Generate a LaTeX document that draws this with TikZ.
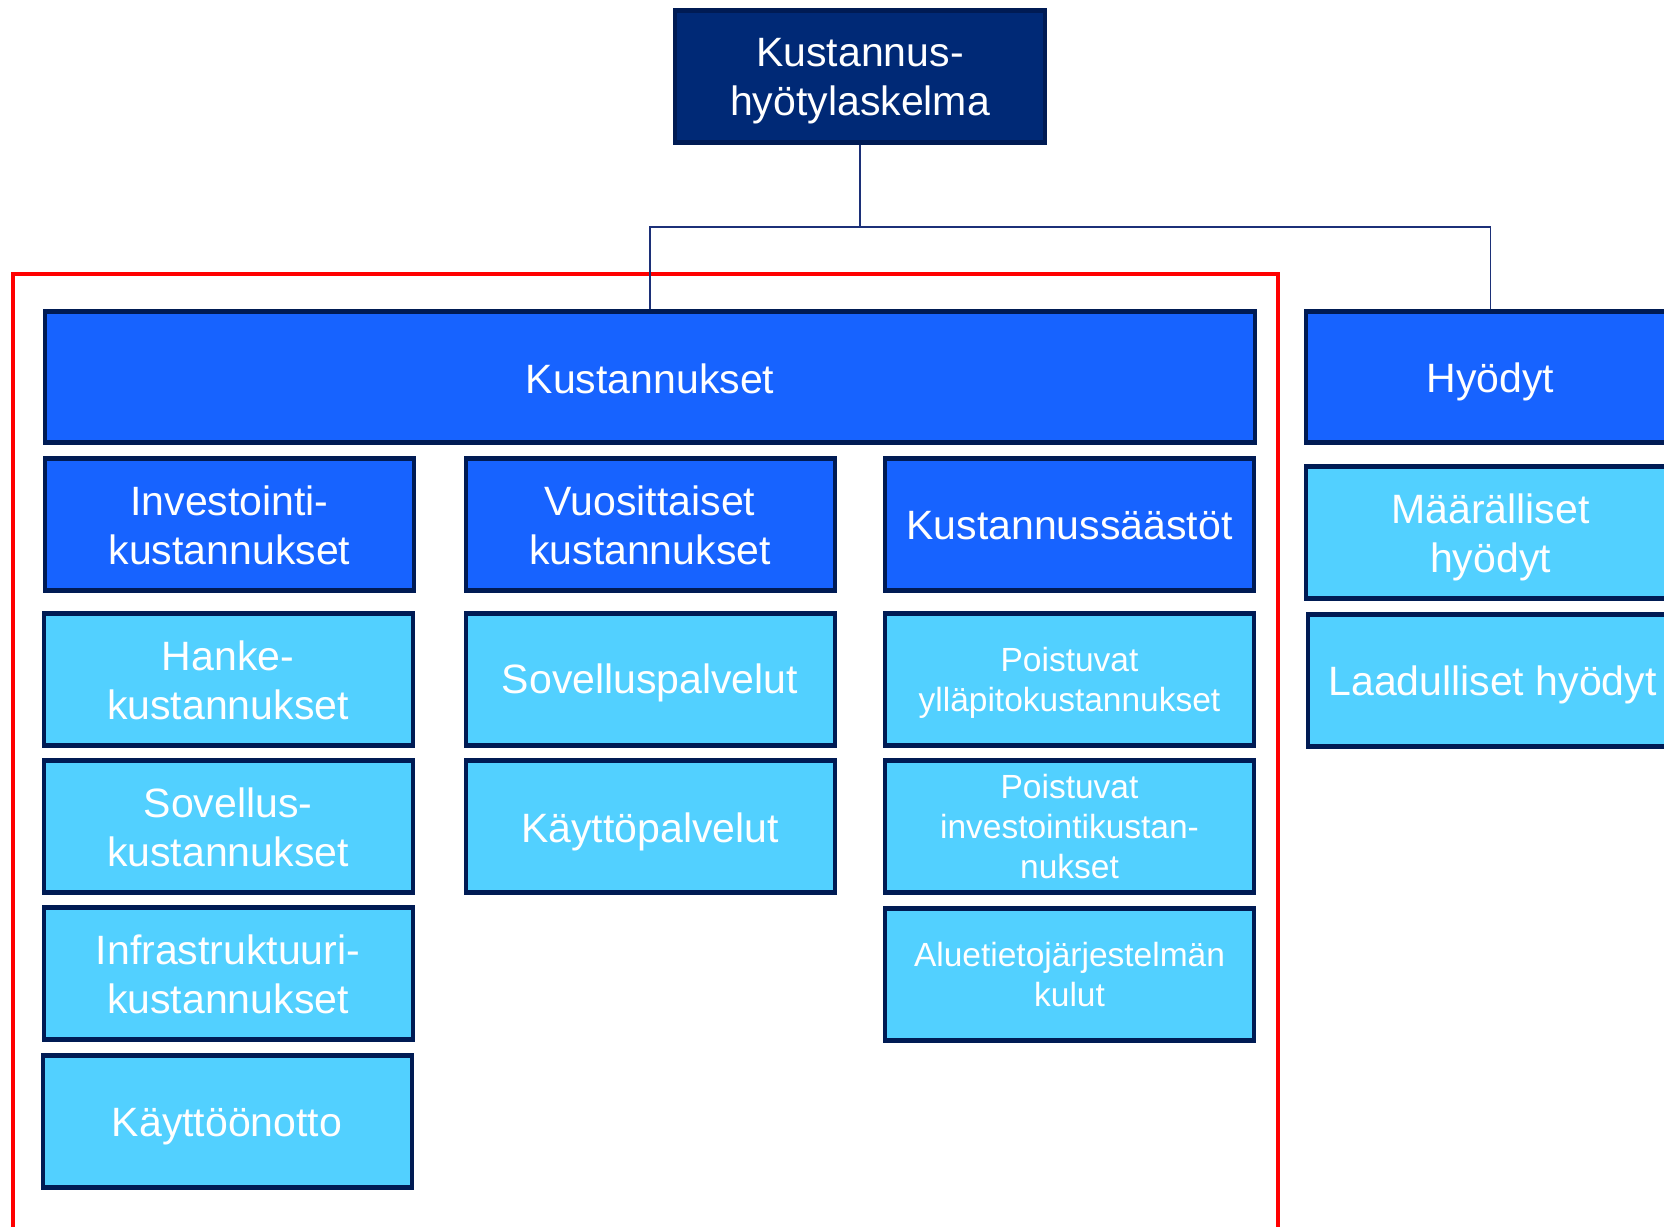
\documentclass[tikz,border=0pt]{standalone}
\usepackage{fontspec}
\setmainfont{Liberation Sans}
\definecolor{navyedge}{RGB}{0,27,84}
\definecolor{topfill}{RGB}{0,41,118}
\definecolor{midblue}{RGB}{23,99,255}
\definecolor{lightblue}{RGB}{82,208,255}
\definecolor{linkcol}{RGB}{28,48,120}
\definecolor{framered}{RGB}{255,0,0}
\tikzset{
  box/.style={draw=navyedge, line width=4pt, rectangle, inner sep=2pt,
    path picture={
      \fill[navyedge] (path picture bounding box.north west) rectangle
        ([yshift=-3pt]path picture bounding box.north east);
      \fill[navyedge] (path picture bounding box.south west) rectangle
        ([yshift=3pt]path picture bounding box.south east);
    }},
  bigtext/.style={font=\fontsize{41}{49}\selectfont, text=white, align=center},
  smalltext/.style={font=\fontsize{33.5}{40}\selectfont, text=white, align=center},
  % box caption: vertical offset, then text
  say/.style 2 args={label={[bigtext, yshift=#1]center:#2}},
  saysm/.style 2 args={label={[smalltext, yshift=#1]center:#2}},
  headbox/.style={box, fill=topfill},
  catbox/.style={box, fill=midblue},
  itembox/.style={box, fill=lightblue},
  colbox/.style={minimum width=369pt, minimum height=133pt},
  link/.style={draw=linkcol, line width=1.8pt},
}
\begin{document}
\begin{tikzpicture}[x=1pt, y=-1pt]
\clip (0,0) rectangle (1664,1226);
\fill[white] (0,0) rectangle (1664,1226);

% frame around the cost branch
\draw[framered, line width=4.5pt] (13,1240) -- (13,274) -- (1278,274) -- (1278,1240);

% root
\node[headbox, minimum width=370pt, minimum height=133pt,
  say={-5pt}{Kustannus-\\hyötylaskelma}] (root) at (860,76.5) {};

% main branches
\node[catbox, minimum width=1210pt, minimum height=132pt,
  say={-2pt}{Kustannukset}] (kust) at (650,377) {};
\node[catbox, minimum width=369pt, minimum height=132pt,
  say={-5pt}{Hyödyt}] (hyod) at (1490.5,377) {};

% cost categories
\node[catbox, colbox, say={-1pt}{Investointi-\\kustannukset}] (inv) at (229.5,524.5) {};
\node[catbox, colbox, say={-1pt}{Vuosittaiset\\kustannukset}] (vuos) at (650,524.5) {};
\node[catbox, colbox, say={-1pt}{Kustannussäästöt}] (saast) at (1069.5,524.5) {};

% benefit items
\node[itembox, colbox, say={-5pt}{Määrälliset\\hyödyt}] (maar) at (1490.5,532.5) {};
\node[itembox, colbox, say={-5pt}{Laadulliset hyödyt}] (laad) at (1492.5,680) {};

% investment costs
\node[itembox, colbox, say={-1pt}{Hanke-\\kustannukset}] (hanke) at (228,679) {};
\node[itembox, colbox, say={-1pt}{Sovellus-\\kustannukset}] (sovk) at (228,826.5) {};
\node[itembox, colbox, say={-1pt}{Infrastruktuuri-\\kustannukset}] (infra) at (228,973.5) {};
\node[itembox, colbox, say={-6pt}{Käyttöönotto}] (kayt) at (227,1121) {};

% annual costs
\node[itembox, colbox, say={-4pt}{Sovelluspalvelut}] (sovp) at (650,679) {};
\node[itembox, colbox, say={-5pt}{Käyttöpalvelut}] (kayp) at (650,826.5) {};

% cost savings
\node[itembox, colbox, saysm={-4pt}{Poistuvat\\ylläpitokustannukset}] (poisy) at (1069.5,679) {};
\node[itembox, colbox, saysm={0pt}{Poistuvat\\investointikustan-\\nukset}] (poisi) at (1069.5,826.5) {};
\node[itembox, colbox, saysm={0pt}{Aluetietojärjestelmän\\kulut}] (alue) at (1069.5,974.5) {};

% connectors from the root
\coordinate (bus) at (root.south |- 0,227);
\draw[link] (root.south) -- (bus);
\draw[link] (kust.north) |- (bus) -| (hyod.north);
\end{tikzpicture}
\end{document}
